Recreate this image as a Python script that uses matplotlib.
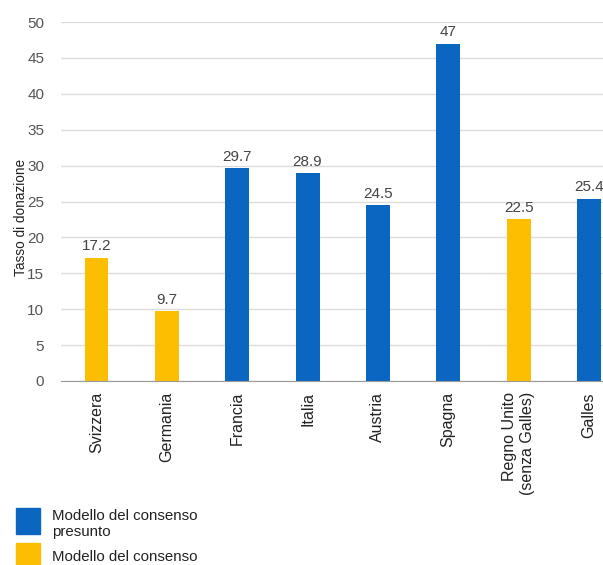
import matplotlib
matplotlib.use('agg')
from matplotlib import pyplot as plt
from matplotlib.patches import Rectangle

plt.rcParams['font.family'] = ['Liberation Sans', 'DejaVu Sans']

# data
countries = ['Svizzera', 'Germania', 'Francia', 'Italia', 'Austria', 'Spagna',
             'Regno Unito\n(senza Galles)', 'Galles']
rates = [17.2, 9.7, 29.7, 28.9, 24.5, 47, 22.5, 25.4]
model = ['esplicito', 'esplicito', 'presunto', 'presunto', 'presunto', 'presunto',
         'esplicito', 'presunto']
series_names = ['presunto', 'esplicito']
# second label is cut by the bottom edge in the original, only its first line shows
series_labels = ['Modello del consenso\npresunto', 'Modello del consenso']
colors = {'presunto': '#0b66c2', 'esplicito': '#fdbd00'}
yticks = [0, 5, 10, 15, 20, 25, 30, 35, 40, 45, 50]

fig = plt.figure(figsize=(6.03, 5.65), dpi=100)
ax = fig.add_axes([61 / 603, (565 - 381) / 565, 1 - 61 / 603, 359 / 565])

x = list(range(len(countries)))
bars = ax.bar(x, rates, width=0.34, color=[colors[m] for m in model], zorder=3)
ax.bar_label(bars, labels=[f'{v:g}' for v in rates], padding=3,
             fontsize=11, color='#444444')

ax.set_xlim(-0.505, 7.2)
ax.set_ylim(0, 50)
ax.set_yticks(yticks)
ax.set_xticks(x)
ax.set_xticklabels(countries, rotation=90, fontsize=11.5, color='#222222',
                   multialignment='right')
ax.tick_params(axis='x', length=0, pad=8)
ax.tick_params(axis='y', length=0, pad=12, labelsize=11, labelcolor='#555555')
ax.grid(axis='y', color='#dcdcdc', linewidth=1, zorder=0)
for s in ['top', 'right', 'left']:
    ax.spines[s].set_visible(False)
ax.spines['bottom'].set_color('#999999')
ax.spines['bottom'].set_zorder(4)
ax.set_ylabel('Tasso di donazione', fontsize=9.8, color='#222222')
ax.yaxis.set_label_coords((28 - 61) / 542, (381 - 217) / 359)

# legend drawn by hand at the bottom left
for i, name in enumerate(series_names):
    top = 508 + i * 35
    fig.patches.append(Rectangle((16 / 603, 1 - (top + 26) / 565), 24 / 603, 26 / 565,
                                 transform=fig.transFigure, color=colors[name]))
    fig.text(52 / 603, 1 - (top + 1 + i * 6) / 565, series_labels[i], fontsize=10.8,
             color='#222222', va='top', ha='left', linespacing=1.15)

fig.savefig('out.png', dpi=100)
